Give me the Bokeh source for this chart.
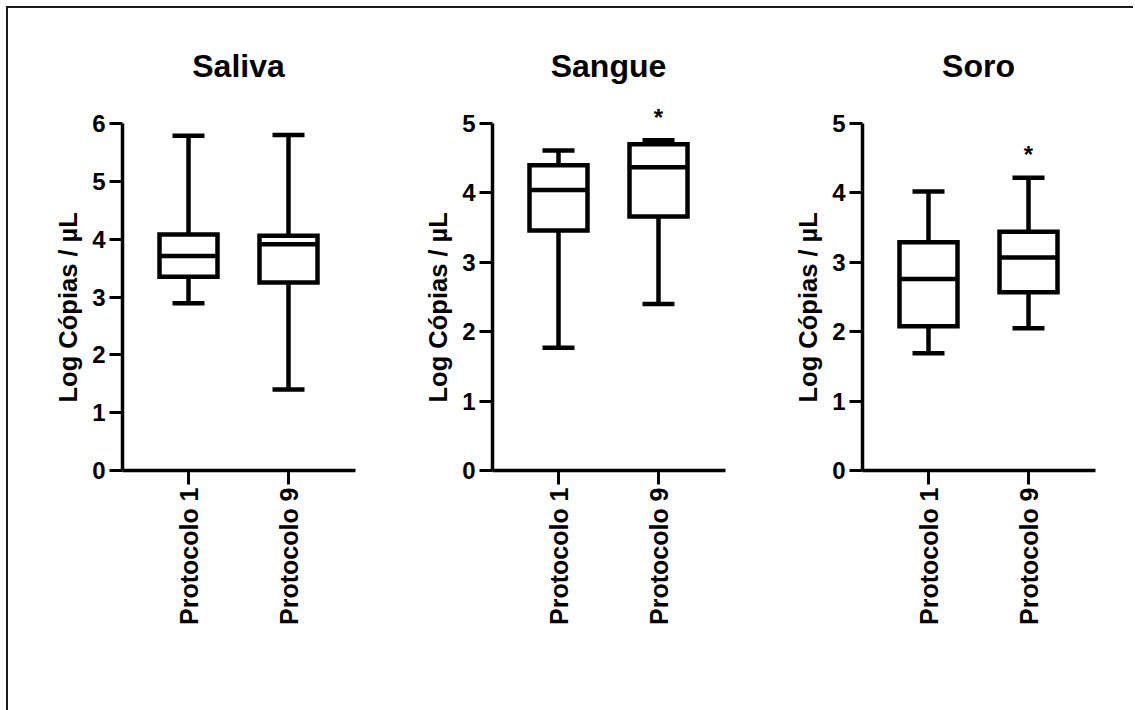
import math
from bokeh.plotting import figure
from bokeh.layouts import row
from bokeh.models import FixedTicker, ColumnDataSource, Title
from bokeh.core.properties import value
from bokeh.embed import file_html
from bokeh.resources import INLINE

# ---------------- data ----------------
panels = ["Saliva", "Sangue", "Soro"]
categories = ["Protocolo 1", "Protocolo 9"]
y_max = [6, 5, 5]

# one list per panel, each holding [Protocolo 1, Protocolo 9]
whisker_low = [[2.89, 1.40], [1.77, 2.40], [1.69, 2.05]]
q1 = [[3.35, 3.25], [3.46, 3.66], [2.08, 2.57]]
median = [[3.71, 3.91], [4.04, 4.37], [2.76, 3.07]]
q3 = [[4.08, 4.06], [4.40, 4.70], [3.29, 3.44]]
whisker_high = [[5.79, 5.80], [4.61, 4.76], [4.02, 4.22]]
significance = [["", ""], ["", "*"], ["", "*"]]

y_label = "Log Cópias / µL"

# ---------------- style ----------------
FONT = "Liberation Sans"
BLACK = "#000000"
AXIS_PX = 347      # pixel length of the y axis line (0 .. y_max)
FRAME_PX = 440     # pixel height of the plotting frame
BOX_W = 0.58
CAP_W = 0.32
LW = 4.5

widths = [370, 370, 385]
rights = [23, 23, 38]

figs = []
for i, name in enumerate(panels):
    top = y_max[i]
    xs = list(range(len(categories)))
    src = ColumnDataSource(dict(
        x=xs,
        lo=whisker_low[i], q1=q1[i], med=median[i], q3=q3[i], hi=whisker_high[i],
        box_l=[x - BOX_W / 2 for x in xs], box_r=[x + BOX_W / 2 for x in xs],
        cap_l=[x - CAP_W / 2 for x in xs], cap_r=[x + CAP_W / 2 for x in xs],
        sig=significance[i],
    ))
    p = figure(width=widths[i], height=702,
               x_range=(-0.66, 1.67), y_range=(0, top * FRAME_PX / AXIS_PX),
               output_backend="svg", toolbar_location=None,
               min_border_left=114, min_border_right=rights[i],
               min_border_top=22, min_border_bottom=240)
    p.outline_line_color = None
    p.xgrid.visible = False
    p.ygrid.visible = False
    p.background_fill_color = "white"
    p.border_fill_color = "white"

    # whiskers
    p.segment(x0="x", y0="q3", x1="x", y1="hi", source=src, line_color=BLACK, line_width=LW)
    p.segment(x0="x", y0="lo", x1="x", y1="q1", source=src, line_color=BLACK, line_width=LW)
    p.segment(x0="cap_l", y0="hi", x1="cap_r", y1="hi", source=src, line_color=BLACK, line_width=LW)
    p.segment(x0="cap_l", y0="lo", x1="cap_r", y1="lo", source=src, line_color=BLACK, line_width=LW)
    # boxes
    p.vbar(x="x", width=BOX_W, bottom="q1", top="q3", source=src,
           fill_color="white", line_color=BLACK, line_width=LW, line_join="miter")
    p.segment(x0="box_l", y0="med", x1="box_r", y1="med", source=src, line_color=BLACK, line_width=LW)

    # significance marks
    p.text(x="x", y="hi", text="sig", source=src, y_offset=-23,
           text_align="center", text_baseline="alphabetic",
           text_font=value(FONT), text_font_style="bold", text_font_size="24px",
           text_color=BLACK)
    # panel title
    p.text(x=[(len(categories) - 1) / 2], y=[top], text=[name], y_offset=-58,
           text_align="center", text_baseline="alphabetic",
           text_font=value(FONT), text_font_style="bold", text_font_size="32px",
           text_color=BLACK)

    # y axis
    ya = p.yaxis[0]
    ya.ticker = FixedTicker(ticks=list(range(top + 1)))
    ya.bounds = (0, top)
    ya.axis_line_width = 3.5
    ya.axis_line_color = BLACK
    ya.major_tick_line_width = 3
    ya.major_tick_line_color = BLACK
    ya.major_tick_out = 13
    ya.major_tick_in = 0
    ya.minor_tick_line_color = None
    ya.major_label_text_font = FONT
    ya.major_label_text_font_style = "bold"
    ya.major_label_text_font_size = "24px"
    ya.major_label_text_color = BLACK
    ya.major_label_standoff = 4

    # y axis title, placed along the axis line (not the taller frame)
    p.add_layout(Title(text=y_label, align="left", offset=68,
                       standoff=15, text_font=FONT, text_font_style="bold",
                       text_font_size="25.5px", text_color=BLACK), "left")

    # x axis
    xa = p.xaxis[0]
    xa.ticker = FixedTicker(ticks=xs)
    xa.major_label_overrides = {x: c for x, c in zip(xs, categories)}
    xa.major_label_orientation = math.pi / 2
    xa.axis_line_width = 3.5
    xa.axis_line_color = BLACK
    xa.major_tick_line_width = 3
    xa.major_tick_line_color = BLACK
    xa.major_tick_out = 14
    xa.major_tick_in = 0
    xa.minor_tick_line_color = None
    xa.major_label_text_font = FONT
    xa.major_label_text_font_style = "bold"
    xa.major_label_text_font_size = "25px"
    xa.major_label_text_color = BLACK
    xa.major_label_standoff = 3

    figs.append(p)

layout = row(figs, margin=(6, 0, 0, 6),
             styles={"border-left": "2px solid #1a1a1a", "border-top": "2px solid #1a1a1a"})

open("out.html", "w").write(file_html(layout, INLINE))
